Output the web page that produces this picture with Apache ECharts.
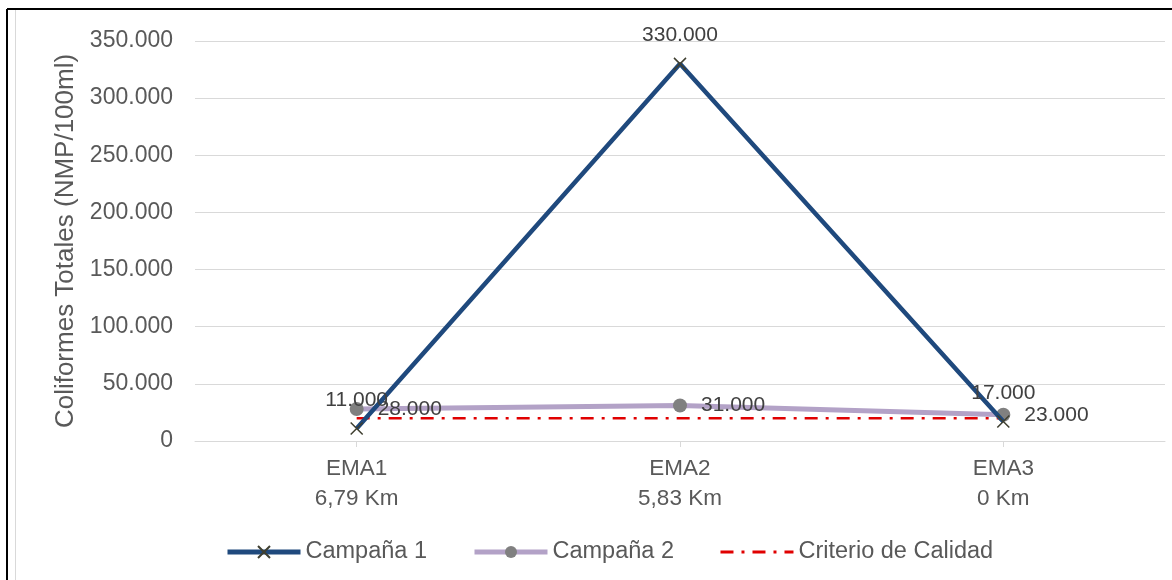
<!DOCTYPE html>
<html><head><meta charset="utf-8">
<script src="https://cdn.jsdelivr.net/npm/echarts@6/dist/echarts.min.js"></script>
<style>html,body{margin:0;padding:0;background:#fff}#c{width:1172px;height:580px}</style>
</head><body><div id="c"></div>
<script>
const categories = ['EMA1\n6,79 Km', 'EMA2\n5,83 Km', 'EMA3\n0 Km'];
const campana1 = [11000, 330000, 17000];
const campana2 = [28000, 31000, 23000];
const criterio = [20000, 20000, 20000];
const yTicks = { min: 0, max: 350000, interval: 50000 };

const fmt = v => v === 0 ? '0' : String(v).replace(/\B(?=(\d{3})+(?!\d))/g, '.');
const font = 'Liberation Sans, Arial, sans-serif';
const chart = echarts.init(document.getElementById('c'));
chart.setOption({
  animation: false,
  textStyle: { fontFamily: font },
  grid: { left: 195, right: 7, top: 41, bottom: 139, containLabel: false },
  graphic: [
    { type: 'line', shape: { x1: 7, y1: 9, x2: 1172, y2: 9 }, style: { stroke: '#000', lineWidth: 2 } },
    { type: 'line', shape: { x1: 7, y1: 9, x2: 7, y2: 580 }, style: { stroke: '#000', lineWidth: 2 } },
    { type: 'line', shape: { x1: 15.5, y1: 10, x2: 15.5, y2: 580 }, style: { stroke: '#d9d9d9', lineWidth: 1 } }
  ],
  legend: {
    top: 535, left: 220, itemWidth: 73, itemHeight: 15, itemGap: 45,
    textStyle: { fontSize: 23.5, color: '#595959', fontFamily: font },
    data: [
      { name: 'Campaña 1', lineStyle: { width: 5 } },
      { name: 'Campaña 2', lineStyle: { width: 5 } },
      { name: 'Criterio de Calidad', lineStyle: { width: 3 } }
    ]
  },
  xAxis: {
    type: 'category', data: categories, boundaryGap: true,
    axisLine: { lineStyle: { color: '#d9d9d9', width: 1 } },
    axisTick: { show: true, alignWithLabel: true, length: 6, lineStyle: { color: '#d9d9d9' } },
    axisLabel: { fontSize: 22.5, color: '#595959', lineHeight: 30, margin: 13, fontFamily: font }
  },
  yAxis: {
    type: 'value', min: yTicks.min, max: yTicks.max, interval: yTicks.interval,
    name: 'Coliformes Totales (NMP/100ml)', nameLocation: 'middle', nameGap: 112,
    nameTextStyle: { fontSize: 26, color: '#595959', fontFamily: font },
    axisLine: { show: false }, axisTick: { show: false },
    splitLine: { lineStyle: { color: '#d9d9d9', width: 1 } },
    axisLabel: { fontSize: 23, color: '#595959', formatter: fmt, margin: 22, fontFamily: font }
  },
  series: [
    {
      name: 'Campaña 1', type: 'line', data: campana1, z: 4,
      symbol: 'path://M0,0L10,10M10,0L0,10', symbolSize: 12,
      lineStyle: { color: '#1F497D', width: 4.5 },
      itemStyle: { color: '#1F497D', borderColor: '#3f3f30', borderWidth: 1.5 },
      label: { show: true, position: 'top', distance: 11, fontSize: 21, color: '#404040', formatter: p => fmt(p.value), fontFamily: font }
    },
    {
      name: 'Campaña 2', type: 'line', data: campana2, z: 3,
      symbol: 'circle', symbolSize: 14,
      lineStyle: { color: '#B3A2C7', width: 5 },
      itemStyle: { color: '#808080' },
      label: { show: true, position: 'right', distance: 14, fontSize: 21, color: '#404040', formatter: p => fmt(p.value), fontFamily: font }
    },
    {
      name: 'Criterio de Calidad', type: 'line', data: criterio, z: 2,
      symbol: 'none',
      lineStyle: { color: '#E00000', width: 2.5, type: [13, 8, 3, 8] },
      itemStyle: { color: 'rgba(0,0,0,0)' }
    }
  ]
});
</script></body></html>
